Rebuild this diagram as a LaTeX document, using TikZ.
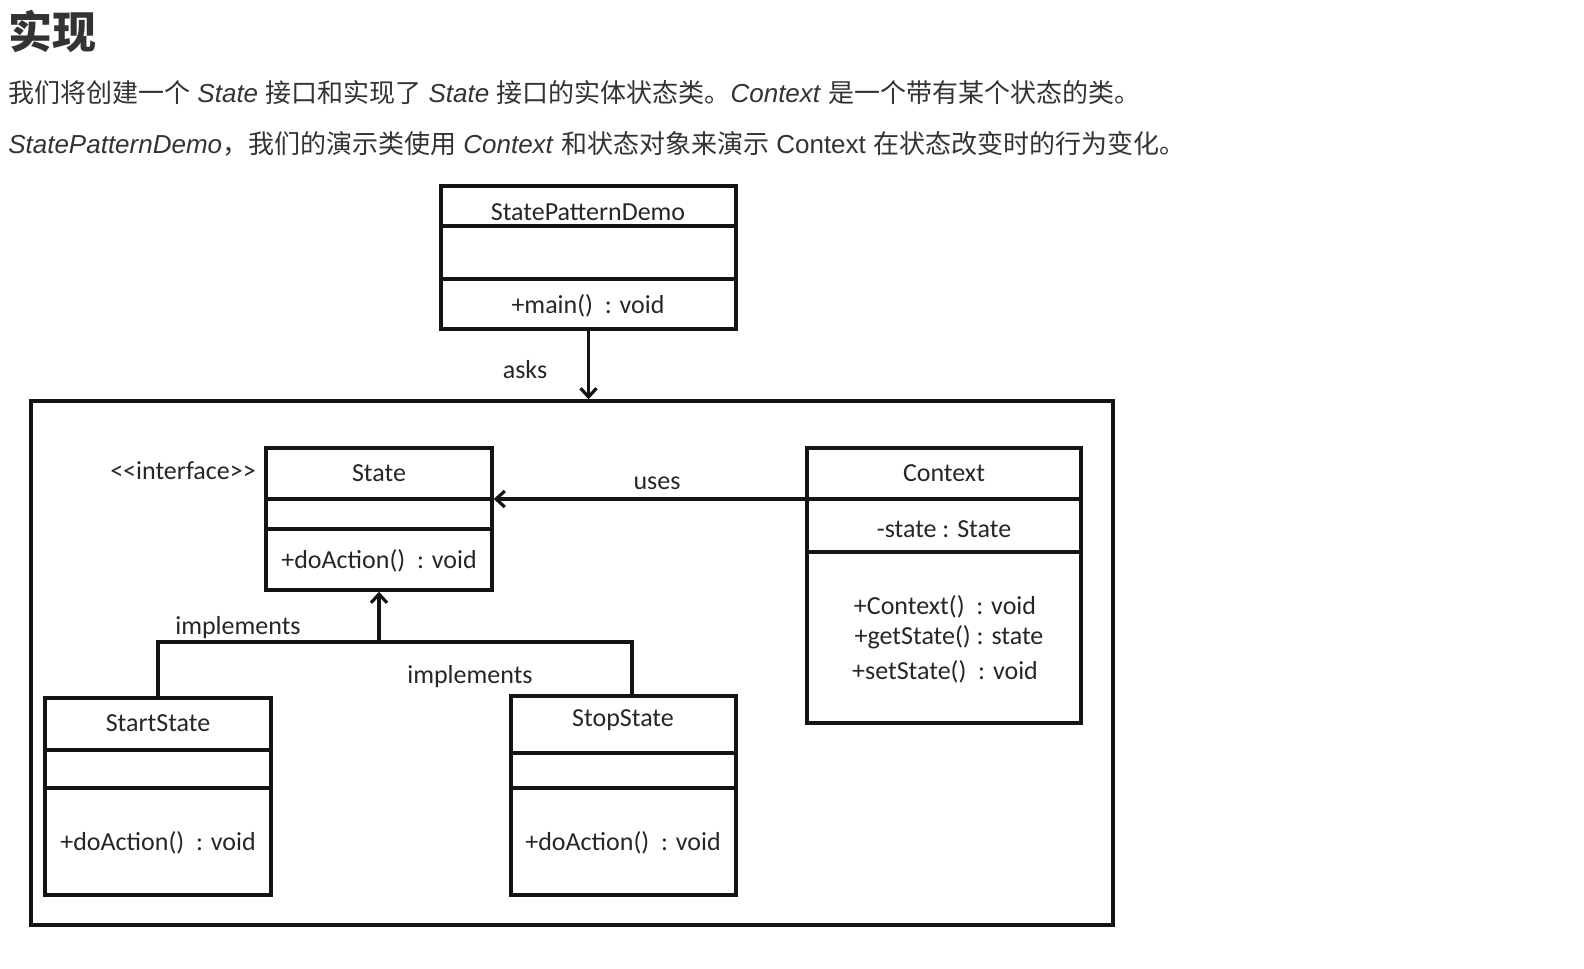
\documentclass[tikz,border=0pt]{standalone}
\usepackage{fontspec}
\setmainfont{Liberation Sans}
\newfontfamily\cjk{Noto Sans CJK SC}
\newfontfamily\umlfont{Carlito}
\usetikzlibrary{arrows.meta, fit}
\definecolor{textgray}{HTML}{333333}
\definecolor{umlgray}{HTML}{262626}
\definecolor{linegray}{HTML}{141414}
\tikzset{
  classbox/.style = {draw=linegray, line width=2.6pt, inner sep=0pt},
  divider/.style = {draw=linegray, line width=2.6pt},
  umltext/.style = {font=\umlfont\fontsize{19.5}{22}\selectfont, text=umlgray, inner sep=0pt},
  intro/.style = {anchor=west, inner sep=0pt, text=textgray, font=\fontsize{19.5}{22}\selectfont},
  relation/.style = {draw=linegray, line width=2.6pt, -{Straight Barb[length=6.5pt, width=12pt, line width=2.4pt]}}
}

\begin{document}
\begin{tikzpicture}[x=0.75pt, y=-0.75pt]
  \useasboundingbox (0,0) rectangle (1584,968);

  %% Heading and intro text
  \node[anchor=west, inner sep=0pt, text=textgray, font=\cjk\bfseries\fontsize{33}{36}\selectfont] (title) at (8,31) {实现};
  \node[intro] (line1) at (8,93) {{\cjk 我们将创建一个} \textit{State} {\cjk 接口和实现了} \textit{State} {\cjk 接口的实体状态类。}\textit{Context} {\cjk 是一个带有某个状态的类。}};
  \node[intro] (line2) at (8,144) {\textit{StatePatternDemo}{\cjk ，我们的演示类使用} \textit{Context} {\cjk 和状态对象来演示} Context {\cjk 在状态改变时的行为变化。}};

  %% Classes

  % Frame
  \node[classbox, fit={(31,401) (1113,925)}] (frame) {};

  % StatePatternDemo
  \node[classbox, fit={(441,186) (736,329)}] (demo) {};
  \draw[divider] (demo.west |- 0,226) -- (demo.east |- 0,226);
  \draw[divider] (demo.west |- 0,279) -- (demo.east |- 0,279);
  \node[umltext] (demoname) at (588,212) {StatePatternDemo};
  \node[umltext] (demomain) at (588,306) {+main()~~: void};

  % State
  \node[classbox, fit={(266,448) (492,590)}] (state) {};
  \draw[divider] (state.west |- 0,499) -- (state.east |- 0,499);
  \draw[divider] (state.west |- 0,529) -- (state.east |- 0,529);
  \node[umltext] (statename) at (379,473) {State};
  \node[umltext] (stateaction) at (379,561) {+doAction()~~: void};
  \node[umltext] (stereo) at (183,471) {<{}<interface>{}>};

  % Context
  \node[classbox, fit={(807,448) (1081,723)}] (context) {};
  \draw[divider] (context.west |- 0,499) -- (context.east |- 0,499);
  \draw[divider] (context.west |- 0,552) -- (context.east |- 0,552);
  \node[umltext] (contextname) at (944,473) {Context};
  \node[umltext] (contextfield) at (944,529) {-state : State};
  \node[umltext] (contextnew) at (945,607) {+Context()~~: void};
  \node[umltext] (contextget) at (949,637) {+getState() : state};
  \node[umltext] (contextset) at (945,672) {+setState()~~: void};

  % StartState
  \node[classbox, fit={(45,698) (271,895)}] (start) {};
  \draw[divider] (start.west |- 0,750) -- (start.east |- 0,750);
  \draw[divider] (start.west |- 0,788) -- (start.east |- 0,788);
  \node[umltext] (startname) at (158,723) {StartState};
  \node[umltext] (startaction) at (158,843) {+doAction()~~: void};

  % StopState
  \node[classbox, fit={(511,696) (736,895)}] (stop) {};
  \draw[divider] (stop.west |- 0,753) -- (stop.east |- 0,753);
  \draw[divider] (stop.west |- 0,788) -- (stop.east |- 0,788);
  \node[umltext] (stopname) at (623,720) {StopState};
  \node[umltext] (stopaction) at (623,843) {+doAction()~~: void};

  %% Relations
  \draw[relation] (demo.south) -- (demo.south |- frame.north);
  \node[umltext] (asks) at (525,370) {asks};

  \draw[relation] (context.west |- 0,499) -- (state.east |- 0,499);
  \node[umltext] (uses) at (657,483) {uses};

  \coordinate (junc) at (state.south |- 0,642);
  \draw[relation] (junc) -- (state.south);
  \draw[divider] (start.north) |- (junc) -| (stop.north -| 632,0);
  \node[umltext] (impleft) at (238,628) {implements};
  \node[umltext] (impright) at (470,677) {implements};

\end{tikzpicture}
\end{document}
